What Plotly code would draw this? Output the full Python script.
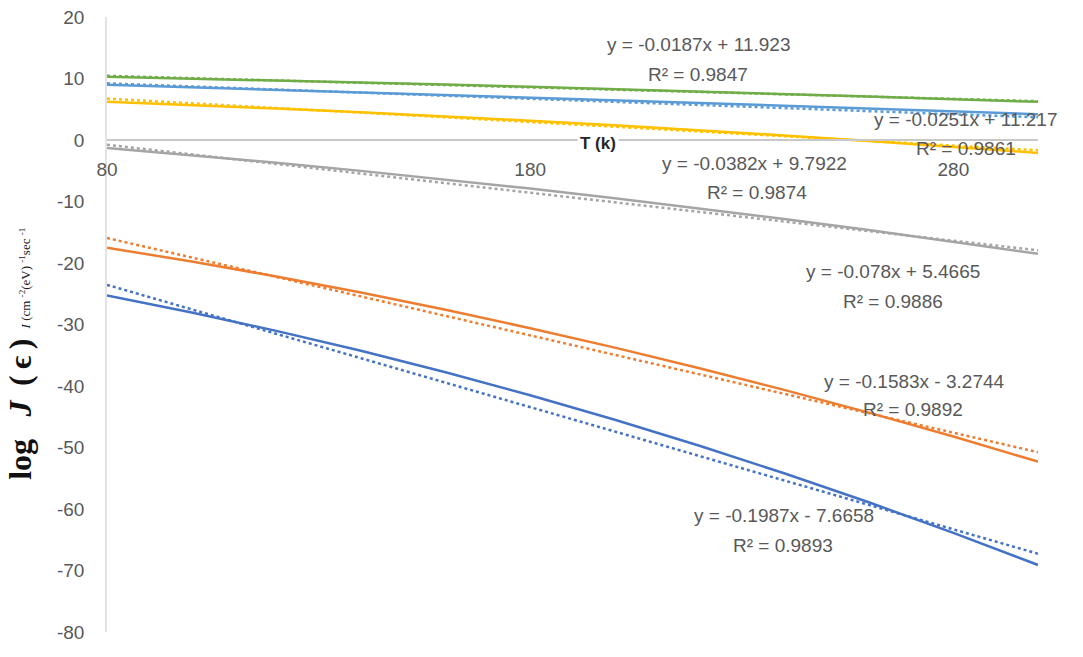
import plotly.graph_objects as go

# ---- data ----
T = [80, 100, 120, 140, 160, 180, 200, 220, 240, 260, 280, 300]

green = [10.3, 10.0, 9.68, 9.35, 9.01, 8.65, 8.28, 7.89, 7.49, 7.07, 6.64, 6.2]
lightblue = [9.0, 8.59, 8.18, 7.76, 7.33, 6.9, 6.47, 6.03, 5.58, 5.13, 4.67, 4.2]
yellow = [6.2, 5.69, 5.12, 4.51, 3.86, 3.15, 2.40, 1.59, 0.74, -0.16, -1.10, -2.1]
gray = [-1.3, -2.46, -3.70, -5.02, -6.42, -7.9, -9.46, -11.11, -12.83, -14.64, -16.53, -18.5]
orange = [-17.5, -19.76, -22.19, -24.81, -27.61, -30.6, -33.76, -37.10, -40.63, -44.33, -48.22, -52.3]
darkblue = [-25.3, -28.05, -31.04, -34.28, -37.77, -41.5, -45.48, -49.71, -54.19, -58.91, -63.88, -69.1]

series_names = ["green", "lightblue", "yellow", "gray", "orange", "darkblue"]
series_values = [green, lightblue, yellow, gray, orange, darkblue]
colors = ["#70AD47", "#5B9BD5", "#FFC000", "#A5A5A5", "#ED7D31", "#4472C4"]

# linear trendline coefficients (from chart labels)
slopes = [-0.0187, -0.0251, -0.0382, -0.078, -0.1583, -0.1987]
intercepts = [11.923, 11.217, 9.7922, 5.4665, -3.2744, -7.6658]
r2 = [0.9847, 0.9861, 0.9874, 0.9886, 0.9892, 0.9893]
eq_text = ["y = -0.0187x + 11.923", "y = -0.0251x + 11.217", "y = -0.0382x + 9.7922",
           "y = -0.078x + 5.4665", "y = -0.1583x - 3.2744", "y = -0.1987x - 7.6658"]
# label anchor positions (data coords): equation line, R² line
eq_pos = [(219.7, 15.5), (282.8, 3.3), (233.0, -3.9), (265.7, -21.4), (270.9, -39.3), (240.0, -61.0)]
r2_pos = [(219.7, 10.6), (283.0, -1.4), (233.5, -8.6), (265.7, -26.3), (270.4, -43.9), (239.8, -65.9)]

x_ticks = [80, 180, 280]
y_ticks = [20, 10, 0, -10, -20, -30, -40, -50, -60, -70, -80]
y_tick_labels = ["20", "10", "0", "-10", "-20", "-30", "-40", "-50", "-60", "-70", "-80"]

fig = go.Figure()

for name, vals, c, m, b in zip(series_names, series_values, colors, slopes, intercepts):
    fig.add_trace(go.Scatter(x=T, y=vals, mode="lines", name=name,
                             line=dict(color=c, width=2.5), showlegend=False))
    tx = [T[0], T[-1]]
    fig.add_trace(go.Scatter(x=tx, y=[m * t + b for t in tx], mode="lines",
                             name=name + " trend",
                             line=dict(color=c, width=2.5, dash="dot"), showlegend=False))

txt_font = dict(family="Liberation Sans, Arial, sans-serif", size=19, color="#595959")
for e, r, (ex, ey), (rx, ry) in zip(eq_text, r2, eq_pos, r2_pos):
    fig.add_annotation(x=ex, y=ey, text=e, showarrow=False, font=txt_font,
                       xanchor="center", yanchor="middle")
    fig.add_annotation(x=rx, y=ry, text="R² = %.4f" % r, showarrow=False, font=txt_font,
                       xanchor="center", yanchor="middle")

# x axis title (sits on the zero line with white background)
fig.add_annotation(x=196.0, y=-0.6, text="<b>T (k)</b>", showarrow=False,
                   font=dict(family="Liberation Sans, Arial, sans-serif", size=17, color="#262626"),
                   bgcolor="white", borderpad=2, xanchor="center", yanchor="middle")

# y axis title
fig.add_annotation(xref="paper", yref="paper", x=-0.093, y=0.362,
                   text="<b>log&#160;&#160;&#8201;<i>J</i>&#160;&#8201;(&#8201;ϵ&#8201;)</b>",
                   textangle=-90, showarrow=False,
                   font=dict(family="Liberation Serif, Times New Roman, serif", size=32, color="#111111"),
                   xanchor="center", yanchor="middle")
fig.add_annotation(xref="paper", yref="paper", x=-0.088, y=0.575,
                   text="<i>I</i> (cm <sup>-2</sup>(eV) <sup>-1</sup>sec <sup>-1</sup>", textangle=-90,
                   showarrow=False,
                   font=dict(family="Liberation Serif, Times New Roman, serif", size=13, color="#222222"),
                   xanchor="center", yanchor="middle")

tick_font = dict(family="Liberation Sans, Arial, sans-serif", size=19, color="#595959")
fig.update_layout(
    width=1083, height=657,
    margin=dict(l=107, r=45, t=17, b=25),
    paper_bgcolor="white", plot_bgcolor="white",
    xaxis=dict(range=[80, 300], tickvals=x_ticks, showgrid=False, zeroline=False,
               showline=True, linecolor="#c8c8c8", linewidth=1.5,
               anchor="free", position=0.8, automargin=False,
               ticks="outside", ticklen=12, tickcolor="rgba(0,0,0,0)",
               tickfont=tick_font),
    yaxis=dict(range=[-80, 20], tickvals=y_ticks, ticktext=y_tick_labels,
               showgrid=False, zeroline=False, automargin=False,
               showline=True, linecolor="#e3e3e3", linewidth=1.5,
               ticks="outside", ticklen=17, tickcolor="rgba(0,0,0,0)",
               tickfont=tick_font),
)

fig.write_html("out.html", config={"displayModeBar": False},
               post_script="document.body.style.margin='0';")
